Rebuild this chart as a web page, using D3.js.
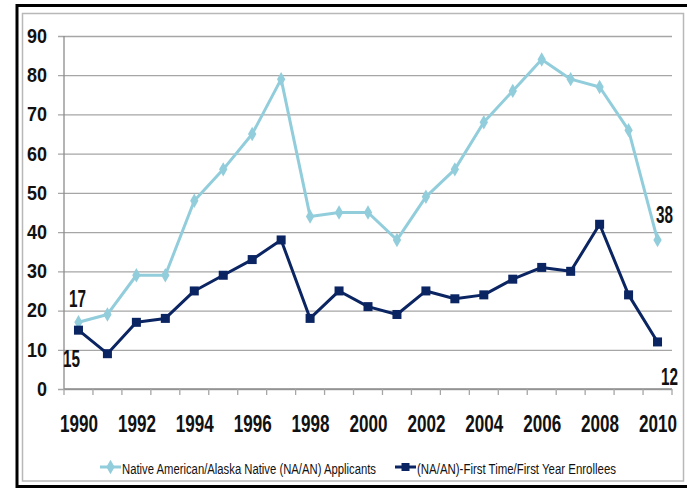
<!DOCTYPE html>
<html>
<head>
<meta charset="utf-8">
<script src="https://cdn.jsdelivr.net/npm/d3@7"></script>
<style>
  body { margin: 0; background: #fff; }
  svg { display: block; }
  text { font-family: "Liberation Sans Narrow", "Liberation Sans", "DejaVu Sans Condensed", sans-serif; }
</style>
</head>
<body>
<div id="chart-area"></div>
<script>
const years = d3.range(1990, 2011)
const applicants = [17, 19, 29, 29, 48, 56, 65, 79, 44, 45, 45, 38, 49, 56, 68, 76, 84, 79, 77, 66, 38]
const enrollees = [15, 9, 17, 18, 25, 29, 33, 38, 18, 25, 21, 19, 25, 23, 24, 28, 31, 30, 42, 24, 12]
const yTicks = [0, 10, 20, 30, 40, 50, 60, 70, 80, 90]
const xLabels = [1990, 1992, 1994, 1996, 1998, 2000, 2002, 2004, 2006, 2008, 2010]
const seriesNames = ['Native American/Alaska Native (NA/AN) Applicants', '(NA/AN)-First Time/First Year Enrollees']

const lightBlue = '#92CDDC'
const navy = '#0B2462'

const W = 687, H = 491
const plot = { left: 64, right: 672, top: 36, bottom: 389 }

const svg = d3.select('#chart-area').append('svg')
    .attr('width', W)
    .attr('height', H)

// frames
svg.append('rect')
    .attr('x', 17).attr('y', 5.5)
    .attr('width', 690).attr('height', 481)
    .attr('fill', 'none').attr('stroke', '#000').attr('stroke-width', 3)
svg.append('rect')
    .attr('x', 22.5).attr('y', 13.5)
    .attr('width', 661).attr('height', 467.5)
    .attr('fill', '#fff').attr('stroke', '#b8b8b8').attr('stroke-width', 1.5)

const xBand = d3.scaleBand().domain(years).range([plot.left, plot.right])
const xScale = d3.scalePoint().domain(years).range([plot.left, plot.right]).padding(0.5)
const yScale = d3.scaleLinear().domain([0, 90]).range([plot.bottom, plot.top])

// gridlines + y ticks
const yAxisCall = d3.axisLeft(yScale)
    .tickValues(yTicks)
    .tickSize(-(plot.right - plot.left))
    .tickPadding(17)
const yAxis = svg.append('g')
    .attr('class', 'y axis')
    .attr('transform', `translate(${plot.left}, 0)`)
    .call(yAxisCall)
yAxis.select('.domain').remove()
yAxis.selectAll('.tick line')
    .attr('x1', -6)
    .attr('stroke', '#a6a6a6')
    .attr('stroke-width', 1.3)
yAxis.selectAll('.tick text')
    .attr('font-size', '20px')
    .attr('font-weight', 'bold')
    .attr('fill', '#111')
    .attr('textLength', d => String(d).length * 10)
    .attr('lengthAdjust', 'spacingAndGlyphs')

// y axis line
svg.append('line')
    .attr('x1', plot.left).attr('x2', plot.left)
    .attr('y1', plot.top).attr('y2', plot.bottom)
    .attr('stroke', '#8c8c8c').attr('stroke-width', 1.3)

// x axis line and tick marks on category boundaries
svg.append('line')
    .attr('x1', plot.left).attr('x2', plot.right)
    .attr('y1', plot.bottom).attr('y2', plot.bottom)
    .attr('stroke', '#8c8c8c').attr('stroke-width', 1.3)
const bounds = years.map(y => xBand(y)).concat([plot.right])
svg.append('g').selectAll('line')
    .data(bounds).enter().append('line')
    .attr('x1', d => d).attr('x2', d => d)
    .attr('y1', plot.bottom).attr('y2', plot.bottom + 6)
    .attr('stroke', '#a6a6a6').attr('stroke-width', 1.3)

const xAxisCall = d3.axisBottom(xScale)
    .tickValues(xLabels)
    .tickSize(0)
    .tickPadding(0)
const xAxis = svg.append('g')
    .attr('class', 'x axis')
    .attr('transform', `translate(0, ${plot.bottom})`)
    .call(xAxisCall)
xAxis.select('.domain').remove()
xAxis.selectAll('.tick text')
    .attr('y', 43)
    .attr('dy', 0)
    .attr('font-size', '24px')
    .attr('font-weight', 'bold')
    .attr('fill', '#111')
    .attr('textLength', 38)
    .attr('lengthAdjust', 'spacingAndGlyphs')

// lines
const line = vals => d3.line()
    .x((d, i) => xScale(years[i]))
    .y(d => yScale(d))(vals)

svg.append('path')
    .attr('d', line(applicants))
    .attr('fill', 'none')
    .attr('stroke', lightBlue)
    .attr('stroke-width', 3)
    .attr('stroke-linejoin', 'round')

svg.append('path')
    .attr('d', line(enrollees))
    .attr('fill', 'none')
    .attr('stroke', navy)
    .attr('stroke-width', 3)
    .attr('stroke-linejoin', 'round')

const diamond = d3.symbol().type(d3.symbolDiamond).size(60)
svg.append('g').selectAll('path')
    .data(applicants).enter().append('path')
    .attr('d', diamond)
    .attr('transform', (d, i) => `translate(${xScale(years[i])}, ${yScale(d)})`)
    .attr('fill', lightBlue)

svg.append('g').selectAll('rect')
    .data(enrollees).enter().append('rect')
    .attr('x', (d, i) => xScale(years[i]) - 4.5)
    .attr('y', d => yScale(d) - 4.5)
    .attr('width', 9)
    .attr('height', 9)
    .attr('fill', navy)

// data labels at the ends
const endLabels = [
    { v: applicants[0], x: xScale(1990) - 1, y: yScale(applicants[0]) - 15 },
    { v: enrollees[0], x: xScale(1990) - 7, y: yScale(enrollees[0]) + 37 },
    { v: applicants[20], x: xScale(2010) + 7, y: yScale(applicants[20]) - 17 },
    { v: enrollees[20], x: xScale(2010) + 12, y: yScale(enrollees[20]) + 43 }
]
svg.append('g').selectAll('text')
    .data(endLabels).enter().append('text')
    .attr('x', d => d.x)
    .attr('y', d => d.y)
    .attr('text-anchor', 'middle')
    .attr('font-size', '23px')
    .attr('font-weight', 'bold')
    .attr('fill', '#111')
    .attr('textLength', 17)
    .attr('lengthAdjust', 'spacingAndGlyphs')
    .text(d => d.v)

// legend
const legend = [
    { name: seriesNames[0], color: lightBlue, x: 100, tx: 122, len: 254, shape: 'diamond' },
    { name: seriesNames[1], color: navy, x: 395, tx: 417, len: 199, shape: 'square' }
]
const lg = svg.append('g').selectAll('g')
    .data(legend).enter().append('g')
lg.append('line')
    .attr('x1', d => d.x).attr('x2', d => d.x + 21)
    .attr('y1', 467).attr('y2', 467)
    .attr('stroke', d => d.color).attr('stroke-width', 3)
lg.append('path')
    .attr('d', d => d.shape === 'diamond' ? diamond() : d3.symbol().type(d3.symbolSquare).size(64)())
    .attr('transform', d => `translate(${d.x + 10.5}, 467)`)
    .attr('fill', d => d.color)
lg.append('text')
    .attr('x', d => d.tx)
    .attr('y', 474)
    .attr('font-size', '14px')
    .attr('fill', '#111')
    .attr('textLength', d => d.len)
    .attr('lengthAdjust', 'spacingAndGlyphs')
    .text(d => d.name)
</script>
</body>
</html>
